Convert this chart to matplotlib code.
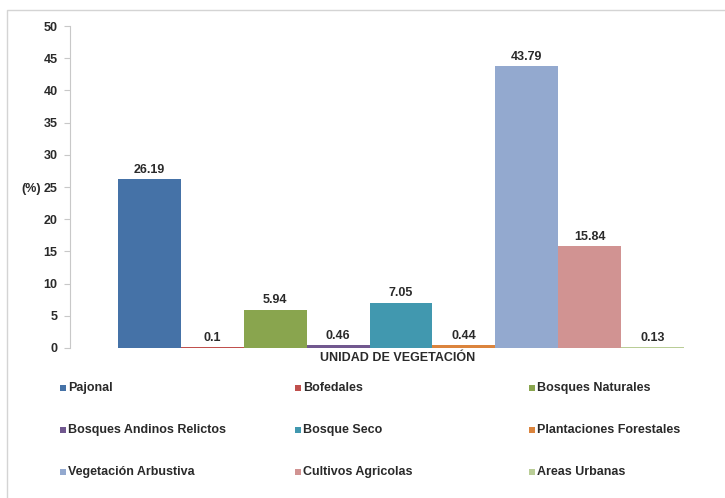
import matplotlib
matplotlib.use("Agg")
import matplotlib.pyplot as plt
from matplotlib.patches import Rectangle

# Vegetation units and their share of the area (%)
categories = [
    "Pajonal", "Bofedales", "Bosques Naturales",
    "Bosques Andinos Relictos", "Bosque Seco", "Plantaciones Forestales",
    "Vegetación Arbustiva", "Cultivos Agricolas", "Areas Urbanas",
]
values = [26.19, 0.1, 5.94, 0.46, 7.05, 0.44, 43.79, 15.84, 0.13]
value_labels = ["26.19", "0.1", "5.94", "0.46", "7.05", "0.44", "43.79", "15.84", "0.13"]
colors = [
    "#4572A7", "#C0504D", "#89A54E",
    "#71588F", "#4198AF", "#DB843D",
    "#93A9CF", "#D19392", "#B9CD96",
]
y_ticks = [0, 5, 10, 15, 20, 25, 30, 35, 40, 45, 50]

plt.rcParams["font.family"] = ["Liberation Sans", "DejaVu Sans"]
plt.rcParams["font.weight"] = "bold"
TEXT = "#2a2a2a"
FS = 9

W, H = 725, 498
fig = plt.figure(figsize=(W / 100, H / 100), dpi=100)
fig.patch.set_facecolor("white")

# outer chart frame
fig.add_artist(Rectangle((7 / W, -0.05), 1.1, (H - 10) / H + 0.05,
                         transform=fig.transFigure, fill=False,
                         edgecolor="#d4d4d4", linewidth=1.0))

left, right = 70, 732
top, bottom = 26, 348
ax = fig.add_axes([left / W, (H - bottom) / H, (right - left) / W, (bottom - top) / H])

x = list(range(len(values)))
bars = ax.bar(x, values, width=1.0, color=colors, edgecolor="none")
for xi, v, lab in zip(x, values, value_labels):
    ax.annotate(lab, (xi, v), xytext=(0, 2.5), textcoords="offset points",
                ha="center", va="bottom", fontsize=FS, fontweight="bold", color=TEXT)

ax.set_xlim(-1.263, 9.263)
ax.set_ylim(0, 50)
ax.set_yticks(y_ticks)
ax.set_yticklabels([str(t) for t in y_ticks], fontsize=FS, fontweight="bold", color=TEXT)
ax.set_xticks([])
for s in ["top", "right", "bottom"]:
    ax.spines[s].set_visible(False)
ax.spines["left"].set_color("#c8c8c8")
ax.tick_params(axis="y", length=4, color="#c8c8c8", pad=5)

fig.text(21 / W, (H - 189) / H, "(%)", fontsize=FS, fontweight="bold", color=TEXT,
         ha="left", va="center")
fig.text(398 / W, (H - 358) / H, "UNIDAD DE VEGETACIÓN", fontsize=FS,
         fontweight="bold", color=TEXT, ha="center", va="center")

# legend laid out in three columns
col_x = [60, 295, 529]
row_y = [388, 430, 472]
for i, (name, c) in enumerate(zip(categories, colors)):
    cx = col_x[i % 3]
    cy = row_y[i // 3]
    fig.add_artist(Rectangle((cx / W, (H - cy - 3) / H), 6 / W, 6 / H,
                             transform=fig.transFigure, facecolor=c, edgecolor="none"))
    fig.text((cx + 8) / W, (H - cy) / H, name, fontsize=FS, fontweight="bold",
             color=TEXT, ha="left", va="center")

fig.savefig("out.png", dpi=100)
